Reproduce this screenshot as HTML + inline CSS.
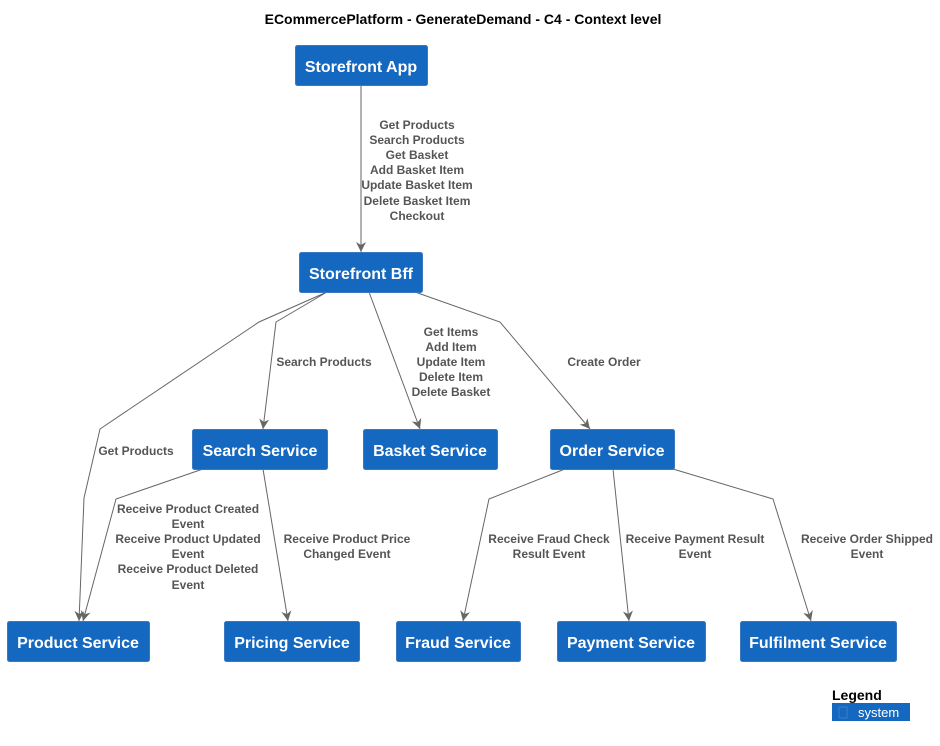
<!DOCTYPE html>
<html><head><meta charset="utf-8"><style>
html,body{margin:0;padding:0;background:#fff}
svg{display:block}
.b{fill:#1568bf;stroke:#3a78c0;stroke-width:1}
.t{font-family:"Liberation Sans",sans-serif;font-weight:bold;font-size:16px;fill:#fff;text-anchor:middle}
.l{font-family:"Liberation Sans",sans-serif;font-weight:bold;font-size:12px;fill:#555;text-anchor:middle}
.e{fill:none;stroke:#666;stroke-width:1}
</style></head><body>
<svg width="940" height="746" viewBox="0 0 940 746" xmlns="http://www.w3.org/2000/svg">
<defs><marker id="a" markerWidth="10" markerHeight="10" refX="5" refY="9" orient="auto" markerUnits="userSpaceOnUse" viewBox="0 0 10 10"><path d="M1,0 L5,10 L9,0 L5,3 Z" fill="#666" transform="rotate(0)"/></marker>
<marker id="m" markerWidth="10" markerHeight="12" refX="10" refY="5" orient="auto" markerUnits="userSpaceOnUse"><path d="M0,0 L10,5 L0,10 L3,5 Z" fill="#666"/></marker></defs>
<text x="463" y="24" font-family="Liberation Sans,sans-serif" font-weight="bold" font-size="14" text-anchor="middle">ECommercePlatform - GenerateDemand - C4 - Context level</text>

<g class="e">
<path d="M361,86 L361,252" marker-end="url(#m)"/>
<path d="M327,292 L259,322 L100,429 L84,498 L79,621" marker-end="url(#m)"/>
<path d="M327,292 L276,322 L263,429" marker-end="url(#m)"/>
<path d="M369,292 L420,429" marker-end="url(#m)"/>
<path d="M415,292 L500,322 L590,429" marker-end="url(#m)"/>
<path d="M203,469 L116,499 L83,621" marker-end="url(#m)"/>
<path d="M263,469 L288,621" marker-end="url(#m)"/>
<path d="M565,469 L489,499 L463,621" marker-end="url(#m)"/>
<path d="M613,469 L629,621" marker-end="url(#m)"/>
<path d="M673,469 L773,499 L811,621" marker-end="url(#m)"/>
</g>

<g class="l">
<text x="417" y="129">Get Products</text>
<text x="417" y="144">Search Products</text>
<text x="417" y="159">Get Basket</text>
<text x="417" y="174">Add Basket Item</text>
<text x="417" y="189">Update Basket Item</text>
<text x="417" y="205">Delete Basket Item</text>
<text x="417" y="220">Checkout</text>
<text x="324" y="366">Search Products</text>
<text x="451" y="336">Get Items</text>
<text x="451" y="351">Add Item</text>
<text x="451" y="366">Update Item</text>
<text x="451" y="381">Delete Item</text>
<text x="451" y="396">Delete Basket</text>
<text x="604" y="366">Create Order</text>
<text x="136" y="455">Get Products</text>
<text x="188" y="513">Receive Product Created</text>
<text x="188" y="528">Event</text>
<text x="188" y="543">Receive Product Updated</text>
<text x="188" y="558">Event</text>
<text x="188" y="573">Receive Product Deleted</text>
<text x="188" y="589">Event</text>
<text x="347" y="543">Receive Product Price</text>
<text x="347" y="558">Changed Event</text>
<text x="549" y="543">Receive Fraud Check</text>
<text x="549" y="558">Result Event</text>
<text x="695" y="543">Receive Payment Result</text>
<text x="695" y="558">Event</text>
<text x="867" y="543">Receive Order Shipped</text>
<text x="867" y="558">Event</text>
</g>

<rect class="b" x="295.5" y="45.5" width="132" height="40" rx="2"/><text class="t" x="361" y="72">Storefront App</text>
<rect class="b" x="299.5" y="252.5" width="123" height="40" rx="2"/><text class="t" x="361" y="279">Storefront Bff</text>
<rect class="b" x="192.5" y="429.5" width="135" height="40" rx="2"/><text class="t" x="260" y="456">Search Service</text>
<rect class="b" x="363.5" y="429.5" width="134" height="40" rx="2"/><text class="t" x="430" y="456">Basket Service</text>
<rect class="b" x="550.5" y="429.5" width="124" height="40" rx="2"/><text class="t" x="612" y="456">Order Service</text>
<rect class="b" x="7.5" y="621.5" width="142" height="40" rx="2"/><text class="t" x="78" y="648">Product Service</text>
<rect class="b" x="224.5" y="621.5" width="135" height="40" rx="2"/><text class="t" x="292" y="648">Pricing Service</text>
<rect class="b" x="396.5" y="621.5" width="124" height="40" rx="2"/><text class="t" x="458" y="648">Fraud Service</text>
<rect class="b" x="557.5" y="621.5" width="148" height="40" rx="2"/><text class="t" x="631" y="648">Payment Service</text>
<rect class="b" x="740.5" y="621.5" width="156" height="40" rx="2"/><text class="t" x="818" y="648">Fulfilment Service</text>

<text x="832" y="700" font-family="Liberation Sans,sans-serif" font-weight="bold" font-size="14">Legend</text>
<rect x="832" y="703" width="78" height="18" fill="#1568bf"/>
<rect x="839" y="707" width="8" height="11" fill="none" stroke="#3a7cc8" stroke-width="1"/>
<text x="858" y="717" font-family="Liberation Sans,sans-serif" font-size="13" fill="#fff">system</text>
</svg>
</body></html>
